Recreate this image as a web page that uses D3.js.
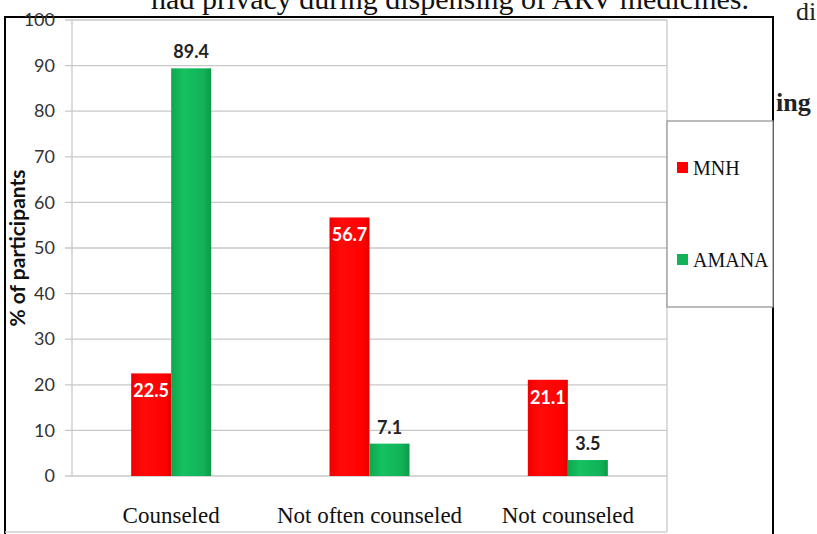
<!DOCTYPE html>
<html><head><meta charset="utf-8">
<script src="https://cdn.jsdelivr.net/npm/d3@7"></script>
<style>body{margin:0;background:#fff;} svg{display:block;}</style>
</head><body>
<svg id="c" width="817" height="534"></svg>
<script>
const categories = ["Counseled", "Not often counseled", "Not counseled"];
const seriesNames = ["MNH", "AMANA"];
const mnh = [22.5, 56.7, 21.1];
const amana = [89.4, 7.1, 3.5];
const yTicks = [0,10,20,30,40,50,60,70,80,90,100];

const svg = d3.select("#c");
const defs = svg.append("defs");
const gg = defs.append("linearGradient").attr("id","gGreen").attr("x1",0).attr("x2",1).attr("y1",0).attr("y2",0);
gg.append("stop").attr("offset","0%").attr("stop-color","#0fa64e");
gg.append("stop").attr("offset","30%").attr("stop-color","#15c160");
gg.append("stop").attr("offset","80%").attr("stop-color","#12b358");
gg.append("stop").attr("offset","100%").attr("stop-color","#0c9a47");
const gr = defs.append("linearGradient").attr("id","gRed").attr("x1",0).attr("x2",1).attr("y1",0).attr("y2",0);
gr.append("stop").attr("offset","0%").attr("stop-color","#f00000");
gr.append("stop").attr("offset","30%").attr("stop-color","#ff0a0a");
gr.append("stop").attr("offset","85%").attr("stop-color","#ff0000");
gr.append("stop").attr("offset","100%").attr("stop-color","#e00000");

// surrounding page text
svg.append("text").attr("x",796).attr("y",20)
  .attr("font-family","Liberation Serif").attr("font-size",26).attr("fill","#222").text("di");
svg.append("text").attr("x",776).attr("y",111)
  .attr("font-family","Liberation Serif").attr("font-size",26).attr("font-weight","bold").attr("fill","#222").text("ing");

// chart frame
svg.append("rect").attr("x",5).attr("y",17).attr("width",768).attr("height",530)
  .attr("fill","#fff").attr("stroke","#000").attr("stroke-width",2);
svg.append("text").attr("x",450).attr("y",9).attr("text-anchor","middle")
  .attr("font-family","Liberation Serif").attr("font-size",30).attr("fill","#111")
  .text("had privacy during dispensing of ARV medicines.");

const pLeft = 72, pRight = 667, pTop = 20, pBottom = 476;
const y = d3.scaleLinear().domain([0,100]).range([pBottom, pTop]);
const x = d3.scaleBand().domain(categories).range([pLeft, pRight]).paddingInner(0).paddingOuter(0);
const xs = d3.scaleBand().domain(seriesNames).range([0, 80]);

// gridlines
svg.append("g").selectAll("line").data(yTicks).join("line")
  .attr("x1",65).attr("x2",pRight).attr("y1",d=>y(d)).attr("y2",d=>y(d))
  .attr("stroke","#c8c8c8").attr("stroke-width",1.3);
svg.append("line").attr("x1",pLeft).attr("x2",pLeft).attr("y1",pTop).attr("y2",pBottom).attr("stroke","#c8c8c8").attr("stroke-width",1.3);
svg.append("line").attr("x1",pRight).attr("x2",pRight).attr("y1",pTop).attr("y2",532).attr("stroke","#c8c8c8").attr("stroke-width",1.3);
svg.append("line").attr("x1",5).attr("x2",pRight).attr("y1",532).attr("y2",532).attr("stroke","#d0d0d0").attr("stroke-width",1.3);

// y axis labels
const yAxis = d3.axisLeft(y).tickValues(yTicks).tickSize(0).tickPadding(0);
const ya = svg.append("g").attr("transform",`translate(55,0)`).call(yAxis);
ya.select(".domain").remove();
ya.selectAll("text").attr("font-family","Lato").attr("font-size",18).attr("fill","#333");

svg.append("text").attr("transform",`translate(25,248) rotate(-90)`).attr("text-anchor","middle")
  .attr("font-family","Lato").attr("font-weight","bold").attr("font-size",21).attr("fill","#111")
  .text("% of participants");

// bars
const rows = categories.map((c,i)=>({c, vals:[{s:"MNH",v:mnh[i]},{s:"AMANA",v:amana[i]}]}));
const grp = svg.append("g").selectAll("g").data(rows).join("g")
  .attr("transform",d=>`translate(${x(d.c)+x.bandwidth()/2-40},0)`);
grp.selectAll("rect").data(d=>d.vals).join("rect")
  .attr("x",d=>xs(d.s)).attr("width",xs.bandwidth()).attr("y",d=>y(d.v)).attr("height",d=>y(0)-y(d.v))
  .attr("fill",d=>d.s==="MNH"?"url(#gRed)":"url(#gGreen)");
grp.selectAll("text").data(d=>d.vals).join("text")
  .attr("x",d=>xs(d.s)+xs.bandwidth()/2)
  .attr("y",d=>d.s==="MNH"? y(d.v)+24 : y(d.v)-10)
  .attr("text-anchor","middle").attr("font-family","Lato").attr("font-weight","bold").attr("font-size",18)
  .attr("fill",d=>d.s==="MNH"?"#fff":"#222")
  .text(d=>d.v.toFixed(1));

// x labels
svg.append("g").selectAll("text").data(categories).join("text")
  .attr("x",d=>x(d)+x.bandwidth()/2).attr("y",523).attr("text-anchor","middle")
  .attr("font-family","Liberation Serif").attr("font-size",23).attr("fill","#111")
  .text(d=>d);

// legend
svg.append("rect").attr("x",pRight).attr("y",121).attr("width",106).attr("height",186)
  .attr("fill","#fff").attr("stroke","#999").attr("stroke-width",1.3);
const legY = [168, 260];
const lg = svg.append("g").selectAll("g").data(seriesNames).join("g")
  .attr("transform",(d,i)=>`translate(677,${legY[i]})`);
lg.append("rect").attr("x",0).attr("y",-6).attr("width",11).attr("height",11)
  .attr("fill",(d,i)=>i===0?"#f00":"#12b358");
lg.append("text").attr("x",16).attr("y",7).attr("font-family","Liberation Serif").attr("font-size",20).attr("fill","#111").text(d=>d);
</script>
</body></html>
